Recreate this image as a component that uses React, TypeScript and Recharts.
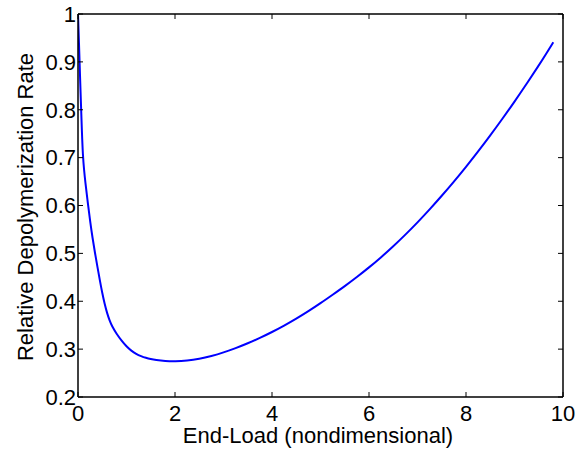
import { LineChart, Line, XAxis, YAxis } from "recharts";

// end-load (x) and relative depolymerization rate (y)
const endLoad = [
  0, 0.02, 0.04, 0.06, 0.08, 0.1, 0.125, 0.15, 0.2, 0.25, 0.3, 0.35, 0.4, 0.45,
  0.5, 0.55, 0.6, 0.65, 0.7, 0.8, 0.9, 1.0, 1.1, 1.2, 1.3, 1.4, 1.5, 1.6, 1.8,
  2.0, 2.25, 2.5, 2.75, 3.0, 3.25, 3.5, 3.75, 4.0, 4.25, 4.5, 4.75, 5.0, 5.25,
  5.5, 5.75, 6.0, 6.25, 6.5, 6.75, 7.0, 7.25, 7.5, 7.75, 8.0, 8.25, 8.5, 8.75,
  9.0, 9.25, 9.5, 9.65, 9.8,
];
const relativeRate = [
  1.0, 0.94, 0.875, 0.815, 0.755, 0.705, 0.674, 0.65, 0.607, 0.567, 0.532,
  0.501, 0.472, 0.444, 0.417, 0.394, 0.375, 0.36, 0.348, 0.331, 0.3175, 0.3055,
  0.2965, 0.2898, 0.2852, 0.2817, 0.2791, 0.2772, 0.2749, 0.2742, 0.2757,
  0.2795, 0.2855, 0.293, 0.302, 0.3121, 0.3233, 0.3356, 0.349, 0.3635, 0.3791,
  0.3958, 0.4136, 0.4315, 0.4505, 0.4705, 0.4918, 0.5147, 0.539, 0.5646,
  0.5917, 0.6201, 0.6497, 0.6806, 0.7128, 0.7462, 0.7809, 0.8169, 0.8541,
  0.8926, 0.9165, 0.9411,
];
const xTicks = [0, 2, 4, 6, 8, 10];
const yTicks = [0.2, 0.3, 0.4, 0.5, 0.6, 0.7, 0.8, 0.9, 1];

const data = endLoad.map((x, i) => ({ x, rate: relativeRate[i] }));

const FONT = '"Liberation Sans", Arial, Helvetica, sans-serif';
const TICK_LEN = 5;
const X_GAP = 8;
const Y_GAP = 2;

// matlab-style ticks: marks point into the plot box
const BottomTick = (p: any) => (
  <g>
    <line x1={p.x} x2={p.x} y1={p.y - X_GAP} y2={p.y - X_GAP - TICK_LEN} stroke="#000" />
    <text x={p.x} y={p.y} dy="0.71em" textAnchor="middle" fontSize={22} fontFamily={FONT} fill="#000">
      {p.payload.value}
    </text>
  </g>
);
const LeftTick = (p: any) => (
  <g>
    <line x1={p.x + Y_GAP} x2={p.x + Y_GAP + TICK_LEN} y1={p.y} y2={p.y} stroke="#000" />
    <text x={p.x} y={p.y} dy="0.355em" textAnchor="end" fontSize={22} fontFamily={FONT} fill="#000">
      {p.payload.value}
    </text>
  </g>
);
const TopTick = (p: any) => (
  <line x1={p.x} x2={p.x} y1={p.y} y2={p.y + TICK_LEN} stroke="#000" />
);
const RightTick = (p: any) => (
  <line x1={p.x} x2={p.x - TICK_LEN} y1={p.y} y2={p.y} stroke="#000" />
);

export default function App() {
  return (
    <div style={{ position: "absolute", left: 0, top: 0, background: "#fff" }}>
      <LineChart
        width={577}
        height={449}
        data={data}
        margin={{ top: 13, right: 13, left: 0, bottom: 0 }}
      >
        <XAxis
          dataKey="x"
          type="number"
          domain={[0, 10]}
          ticks={xTicks}
          allowDataOverflow
          height={52}
          stroke="#000"
          strokeWidth={1.5}
          tickSize={0}
          tickLine={false}
          tickMargin={X_GAP}
          tick={<BottomTick />}
          label={{
            content: () => (
              <text x={318} y={443} textAnchor="middle" fontSize={22} fontFamily={FONT} fill="#000">
                End-Load (nondimensional)
              </text>
            ),
          }}
        />
        <XAxis
          xAxisId="top"
          orientation="top"
          dataKey="x"
          type="number"
          domain={[0, 10]}
          ticks={xTicks}
          allowDataOverflow
          height={1}
          stroke="#000"
          strokeWidth={1.5}
          tickSize={0}
          tickLine={false}
          tickMargin={0}
          tick={<TopTick />}
        />
        <YAxis
          type="number"
          domain={[0.2, 1]}
          ticks={yTicks}
          allowDataOverflow
          width={78}
          stroke="#000"
          strokeWidth={1.5}
          tickSize={0}
          tickLine={false}
          tickMargin={Y_GAP}
          tick={<LeftTick />}
          label={{
            content: () => (
              <text
                x={33}
                y={207}
                transform="rotate(-90, 33, 207)"
                textAnchor="middle"
                fontSize={22}
                fontFamily={FONT}
                fill="#000"
              >
                Relative Depolymerization Rate
              </text>
            ),
          }}
        />
        <YAxis
          yAxisId="right"
          orientation="right"
          type="number"
          domain={[0.2, 1]}
          ticks={yTicks}
          allowDataOverflow
          width={1}
          stroke="#000"
          strokeWidth={1.5}
          tickSize={0}
          tickLine={false}
          tickMargin={0}
          tick={<RightTick />}
        />
        <Line
          type="basis"
          dataKey="rate"
          stroke="#0000ff"
          strokeWidth={2}
          dot={false}
          isAnimationActive={false}
        />
      </LineChart>
    </div>
  );
}
